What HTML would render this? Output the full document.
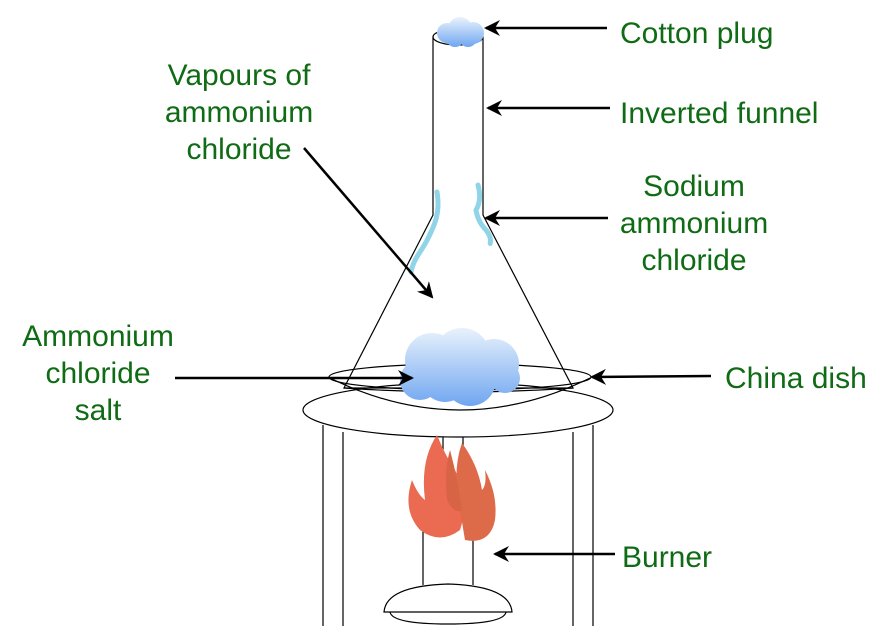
<!DOCTYPE html>
<html><head><meta charset="utf-8"><style>
html,body{margin:0;padding:0;background:#fff;}
svg{display:block;}
text{font-family:"Liberation Sans",Arial,sans-serif;font-size:30px;fill:#0f6b14;}
</style></head><body>
<svg width="877" height="626" viewBox="0 0 877 626" xmlns="http://www.w3.org/2000/svg">
<defs>
<linearGradient id="cg" x1="0" y1="0" x2="0" y2="1">
<stop offset="0" stop-color="#e6f0fc"/><stop offset="1" stop-color="#6fa6f0"/>
</linearGradient>
<linearGradient id="cg2" gradientUnits="userSpaceOnUse" x1="0" y1="330" x2="0" y2="406">
<stop offset="0" stop-color="#e6f0fc"/><stop offset="1" stop-color="#6fa6f0"/>
</linearGradient>
<linearGradient id="cg3" gradientUnits="userSpaceOnUse" x1="0" y1="18" x2="0" y2="47">
<stop offset="0" stop-color="#e6f0fc"/><stop offset="1" stop-color="#6fa6f0"/>
</linearGradient>
<marker id="a2" markerWidth="16" markerHeight="16" refX="14" refY="8" orient="auto" markerUnits="userSpaceOnUse" viewBox="0 0 16 16">
<path d="M0,0 L16,8 L0,16 L5,8 Z" fill="#000"/>
</marker>
</defs>
<g fill="none" stroke="#000" stroke-width="1.2">
<line x1="323" y1="425" x2="323" y2="626"/>
<line x1="343" y1="432" x2="343" y2="626"/>
<line x1="573" y1="432" x2="573" y2="626"/>
<line x1="593" y1="425" x2="593" y2="626"/>
<ellipse cx="458" cy="410" rx="155" ry="27" fill="#fff"/>
<line x1="423" y1="528" x2="423" y2="585"/>
<line x1="473" y1="540" x2="473" y2="585"/>
<line x1="443" y1="437" x2="443" y2="450"/>
<line x1="463" y1="437" x2="463" y2="450"/>
<path d="M384,612 Q386,586 448,584 Q510,586 512,612 Z" fill="#fff"/>
<path d="M390,612 Q392,624 448,624 Q504,624 506,612"/>
<path d="M330,378 Q460,442 590,378"/>
<ellipse cx="460" cy="377" rx="131" ry="13"/>
<path d="M433,37 L433,215 L344,388 L573,388 L483,215 L483,37"/>
<path d="M344,388 Q460,396 573,388"/>
<ellipse cx="458" cy="37" rx="25" ry="8" fill="#fff"/>
</g>
<g fill="url(#cg3)">
<circle cx="447" cy="33" r="10"/><circle cx="460" cy="29" r="12"/><circle cx="473" cy="33" r="11"/><circle cx="455" cy="38" r="9"/><circle cx="468" cy="38" r="9"/>
</g>
<g fill="none" stroke="#90d4e8" stroke-width="5" stroke-dasharray="3 1" stroke-linecap="round">
<path d="M437,192 Q440,210 434,225 Q428,240 420,252 Q413,262 411,272"/>
<path d="M478,185 Q482,200 476,210 Q478,222 486,230 Q492,238 490,244"/>
</g>
<g fill="url(#cg2)">
<circle cx="432" cy="360" r="27"/><circle cx="462" cy="356" r="28"/><circle cx="494" cy="364" r="25"/><circle cx="420" cy="380" r="20"/><circle cx="470" cy="380" r="26"/><circle cx="505" cy="378" r="15"/><circle cx="445" cy="378" r="24"/>
</g>
<path d="M437,435 Q420,460 425,500 Q418,495 412,480 Q402,510 420,530 Q440,545 460,530 Q470,500 455,470 Q445,455 437,435Z" fill="#ea6b52"/>
<path d="M462,443 Q452,470 460,510 L465,540 Q490,545 495,520 Q498,495 485,470 Q487,485 482,490 Q478,465 462,443Z" fill="#dd6a48"/>
<path d="M450,450 Q444,470 447,500 Q455,515 462,510 Q458,480 450,450Z" fill="#d86446"/>
<g stroke="#000" stroke-width="2.5" fill="none" marker-end="url(#a2)">
<line x1="607" y1="28" x2="486" y2="28"/>
<line x1="610" y1="108" x2="488" y2="108"/>
<line x1="608" y1="218" x2="486" y2="218"/>
<line x1="304" y1="148" x2="432" y2="297"/>
<line x1="175" y1="378" x2="412" y2="378"/>
<line x1="711" y1="376" x2="592" y2="377"/>
<line x1="615" y1="554" x2="495" y2="554"/>
</g>
<text x="620" y="43">Cotton plug</text>
<text x="620" y="123">Inverted funnel</text>
<g text-anchor="middle">
<text x="694" y="196">Sodium</text>
<text x="694" y="233">ammonium</text>
<text x="694" y="270">chloride</text>
<text x="239" y="85">Vapours of</text>
<text x="239" y="122">ammonium</text>
<text x="239" y="159">chloride</text>
<text x="98" y="346">Ammonium</text>
<text x="98" y="383">chloride</text>
<text x="98" y="420">salt</text>
</g>
<text x="725" y="388">China dish</text>
<text x="622" y="567">Burner</text>
</svg>
</body></html>
